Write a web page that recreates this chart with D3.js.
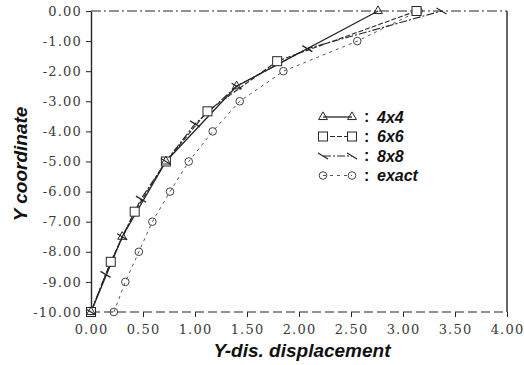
<!DOCTYPE html>
<html>
<head>
<meta charset="utf-8">
<script src="https://cdn.jsdelivr.net/npm/d3@7/dist/d3.min.js"></script>
<style>
  html, body { margin: 0; padding: 0; background: #fff; }
  svg { display: block; }
</style>
</head>
<body>
<svg id="chart" width="524" height="365"></svg>
<script>
// ---- data ----
const xTicks = [0, 0.5, 1, 1.5, 2, 2.5, 3, 3.5, 4];
const xTickLabels = ["0.00", "0.50", "1.00", "1.50", "2.00", "2.50", "3.00", "3.50", "4.00"];
const yTicks = [0, -1, -2, -3, -4, -5, -6, -7, -8, -9, -10];
const yTickLabels = ["0.00", "-1.00", "-2.00", "-3.00", "-4.00", "-5.00", "-6.00", "-7.00", "-8.00", "-9.00", "-10.00"];

const seriesNames = ["4x4", "6x6", "8x8", "exact"];

const x4 = [0, 0.30, 0.72, 1.40, 2.76];
const y4 = [-10, -7.5, -5, -2.5, 0];

const x6 = [0, 0.19, 0.42, 0.72, 1.12, 1.79, 3.13];
const y6 = [-10, -8.333, -6.667, -5, -3.333, -1.667, 0];

const x8 = [0, 0.14, 0.30, 0.48, 0.72, 1.00, 1.40, 2.08, 3.37];
const y8 = [-10, -8.75, -7.5, -6.25, -5, -3.75, -2.5, -1.25, 0];

const xEx = [0.22, 0.33, 0.46, 0.59, 0.76, 0.94, 1.17, 1.43, 1.85, 2.56, 3.15];
const yEx = [-10, -9, -8, -7, -6, -5, -4, -3, -2, -1, 0];

// ---- layout ----
(function () {
const svg = d3.select("#chart");
const pl = 91, pr = 507, pt = 11, pb = 312;
const x = d3.scaleLinear().domain([0, 4]).range([pl, pr]);
const y = d3.scaleLinear().domain([-10, 0]).range([pb, pt]);
const ink = "#262626";

// frame
svg.append("line").attr("x1", pl).attr("x2", pr).attr("y1", pt).attr("y2", pt)
  .attr("stroke", ink).attr("stroke-width", 1.2).attr("stroke-dasharray", "10,3,2,3");
svg.append("line").attr("x1", pl).attr("x2", pr).attr("y1", pb).attr("y2", pb)
  .attr("stroke", ink).attr("stroke-width", 1.2).attr("stroke-dasharray", "9,4");
svg.append("line").attr("x1", pr).attr("x2", pr).attr("y1", pt).attr("y2", pb)
  .attr("stroke", ink).attr("stroke-width", 1.4);

// axes
const xAxis = d3.axisBottom(x).tickValues(xTicks).tickSize(5).tickSizeOuter(0)
  .tickFormat((d, i) => xTickLabels[i]);
const yAxis = d3.axisLeft(y).tickValues(yTicks).tickSize(5).tickSizeOuter(0)
  .tickFormat((d, i) => yTickLabels[i]);

const gx = svg.append("g").attr("transform", `translate(0,${pb})`).call(xAxis);
gx.select(".domain").remove();
const gy = svg.append("g").attr("transform", `translate(${pl},0)`).call(yAxis);
gy.select(".domain").attr("stroke", ink).attr("stroke-width", 1.4);

[gx, gy].forEach(g => {
  g.selectAll(".tick line").attr("stroke", ink).attr("stroke-width", 1);
  g.selectAll(".tick text")
    .attr("fill", "#3a3a3a")
    .style("font-family", "'DejaVu Serif', 'Liberation Serif', serif")
    .style("font-size", "13px")
    .style("letter-spacing", "1.2px");
});
gx.selectAll(".tick text").attr("dy", "1.05em");
gy.selectAll(".tick text").attr("x", -9);

// axis titles
svg.append("text")
  .attr("x", 302).attr("y", 357)
  .attr("text-anchor", "middle")
  .style("font-family", "'Liberation Sans', Arial, sans-serif")
  .style("font-size", "19px").style("font-weight", "bold").style("font-style", "italic")
  .attr("fill", "#111")
  .text("Y-dis. displacement");

svg.append("text")
  .attr("transform", "translate(27,164) rotate(-90)")
  .attr("text-anchor", "middle")
  .style("font-family", "'Liberation Sans', Arial, sans-serif")
  .style("font-size", "19px").style("font-weight", "bold").style("font-style", "italic")
  .attr("fill", "#111")
  .text("Y coordinate");

// ---- series ----
const line = d3.line().x(d => x(d[0])).y(d => y(d[1]));
const zip = (a, b) => a.map((v, i) => [v, b[i]]);

const series = [
  { name: seriesNames[0], pts: zip(x4, y4), dash: null, width: 1.3, marker: "tri" },
  { name: seriesNames[1], pts: zip(x6, y6), dash: "5,2", width: 1.1, marker: "sq" },
  { name: seriesNames[2], pts: zip(x8, y8), dash: "8,2,2,2", width: 1.1, marker: "tick" },
  { name: seriesNames[3], pts: zip(xEx, yEx), dash: "3,4", width: 1.0, marker: "circ" }
];

function drawMarker(g, type, cx, cy) {
  if (type === "tri") {
    g.append("path")
      .attr("d", d3.symbol().type(d3.symbolTriangle).size(34)())
      .attr("transform", `translate(${cx},${cy})`)
      .attr("fill", "none").attr("stroke", ink).attr("stroke-width", 1);
  } else if (type === "sq") {
    g.append("rect").attr("x", cx - 4.5).attr("y", cy - 4.5).attr("width", 9).attr("height", 9)
      .attr("fill", "#fff").attr("stroke", ink).attr("stroke-width", 1);
  } else if (type === "tick") {
    g.append("line").attr("x1", cx - 5).attr("y1", cy - 3).attr("x2", cx + 5).attr("y2", cy + 3)
      .attr("stroke", ink).attr("stroke-width", 1.2);
  } else if (type === "circ") {
    g.append("circle").attr("cx", cx).attr("cy", cy).attr("r", 3.8)
      .attr("fill", "none").attr("stroke", "#444").attr("stroke-width", 1);
  }
}

const plot = svg.append("g");
const order = [series[3], series[1], series[2], series[0]];
order.forEach(s => {
  plot.append("path").datum(s.pts).attr("d", line)
    .attr("fill", "none").attr("stroke", s.marker === "circ" ? "#555" : ink)
    .attr("stroke-width", s.width)
    .attr("stroke-dasharray", s.dash);
});
order.forEach(s => {
  const g = plot.append("g");
  s.pts.forEach(p => drawMarker(g, s.marker, x(p[0]), y(p[1])));
});

// ---- legend ----
const legY = [117, 136.5, 156, 175.5];
const lg = svg.append("g");
series.forEach((s, i) => {
  const ly = legY[i];
  lg.append("line").attr("x1", 323).attr("x2", 352).attr("y1", ly).attr("y2", ly)
    .attr("stroke", s.marker === "circ" ? "#555" : ink).attr("stroke-width", s.width)
    .attr("stroke-dasharray", s.dash);
  drawMarker(lg, s.marker, 323, ly);
  drawMarker(lg, s.marker, 352, ly);
  lg.append("text").attr("x", 364).attr("y", ly + 5)
    .style("font-family", "'Liberation Sans', Arial, sans-serif")
    .style("font-size", "16px").style("font-weight", "bold")
    .attr("fill", "#111").text(":");
  lg.append("text").attr("x", 377).attr("y", ly + 5.5)
    .style("font-family", "'Liberation Sans', Arial, sans-serif")
    .style("font-size", "16px").style("font-weight", "bold").style("font-style", "italic")
    .attr("fill", "#111").text(s.name);
});
})();
</script>
</body>
</html>
